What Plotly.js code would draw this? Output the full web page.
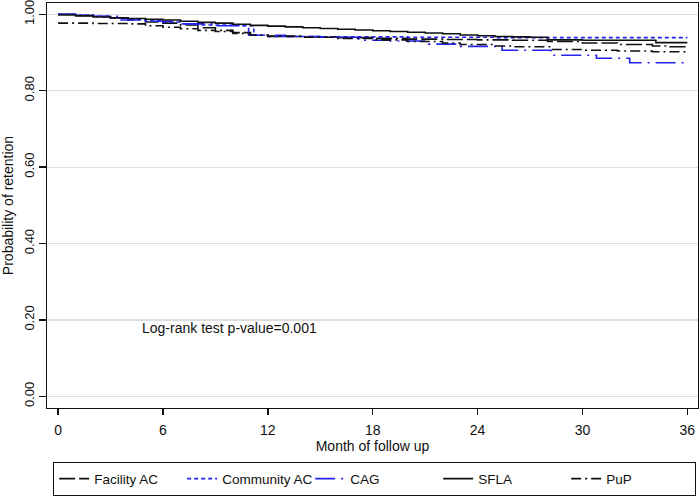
<!DOCTYPE html>
<html>
<head>
<meta charset="utf-8">
<script src="https://cdn.plot.ly/plotly-3.0.1.min.js"></script>
<style>
  html, body { margin: 0; padding: 0; background: #fff; }
  #chart { width: 700px; height: 497px; }
</style>
</head>
<body>
<div id="chart"></div>
<script>
// Kaplan-Meier retention curves (months, probability)
var facilityMonths = [0, 1, 2, 3, 4, 5, 6, 7, 8, 9, 10, 11, 12, 14, 16, 18, 20, 22, 24, 26, 28, 30, 32, 34, 35, 36]
var facilitySurv = [1.0, 0.997, 0.994, 0.99, 0.985, 0.98, 0.977, 0.972, 0.965, 0.958, 0.952, 0.945, 0.942, 0.941, 0.939, 0.937, 0.935, 0.934, 0.933, 0.932, 0.929, 0.925, 0.921, 0.917, 0.915, 0.914]

var communityMonths = [0, 1, 2, 3, 4, 5, 6, 7, 8, 10, 11.2, 12, 15, 20, 25, 36]
var communitySurv = [1.0, 0.998, 0.995, 0.99, 0.987, 0.984, 0.98, 0.975, 0.972, 0.97, 0.945, 0.942, 0.941, 0.94, 0.939, 0.939]

var cagMonths = [0, 1, 2, 3.6, 5, 7, 9, 10.9, 13, 15, 17.2, 19, 21.2, 22.9, 25.4, 28.2, 30.8, 32.7, 36]
var cagSurv = [1.0, 0.998, 0.995, 0.985, 0.982, 0.975, 0.97, 0.945, 0.942, 0.94, 0.932, 0.93, 0.922, 0.916, 0.906, 0.893, 0.885, 0.873, 0.873]

var sflaMonths = [0, 1, 2, 3, 4, 5, 6, 7, 8, 9, 10, 11, 12, 13, 14, 15, 16, 17, 18, 19, 20, 21, 22, 23, 24, 25, 26, 27, 28, 30, 32, 34.2, 36]
var sflaSurv = [0.998, 0.996, 0.993, 0.991, 0.989, 0.987, 0.985, 0.982, 0.979, 0.977, 0.974, 0.971, 0.969, 0.967, 0.965, 0.963, 0.961, 0.959, 0.957, 0.955, 0.953, 0.951, 0.949, 0.946, 0.944, 0.942, 0.941, 0.94, 0.933, 0.932, 0.932, 0.926, 0.926]

var pupMonths = [0, 2, 4, 5, 6, 7, 8, 9, 10, 11, 12, 14, 16, 18, 20, 22, 23, 25, 26, 28.2, 30, 32, 34, 36]
var pupSurv = [0.977, 0.976, 0.975, 0.97, 0.966, 0.962, 0.958, 0.955, 0.95, 0.946, 0.943, 0.94, 0.937, 0.933, 0.929, 0.925, 0.921, 0.917, 0.915, 0.908, 0.906, 0.904, 0.902, 0.901]

var monthTicks = [0, 6, 12, 18, 24, 30, 36]
var probTicks = [0, 0.2, 0.4, 0.6, 0.8, 1.0]
var probLabels = ['0.00', '0.20', '0.40', '0.60', '0.80', '1.00']

var black = '#111111'
var blue = '#2323ee'

function stepTrace(x, y, name, color, dash) {
    return {
        x: x, y: y, name: name, type: 'scatter', mode: 'lines',
        line: { shape: 'hv', color: color, width: 1.6, dash: dash },
        hoverinfo: 'x+y+name'
    }
}

var traces = [
    stepTrace(facilityMonths, facilitySurv, 'Facility AC', black, '16px,4px,16px,4px,2px,4px'),
    stepTrace(communityMonths, communitySurv, 'Community AC', blue, '4px,3px'),
    stepTrace(cagMonths, cagSurv, 'CAG', blue, '20px,6px,2px,6px'),
    stepTrace(sflaMonths, sflaSurv, 'SFLA', black, 'solid'),
    stepTrace(pupMonths, pupSurv, 'PuP', black, '10px,4px,2px,4px')
]

var font = { family: 'Liberation Sans, Arial, sans-serif', size: 14, color: '#111' }

var layout = {
    width: 700, height: 497,
    margin: { l: 47, r: 2, t: 3, b: 89, autoexpand: false },
    paper_bgcolor: '#fff', plot_bgcolor: '#fff',
    font: font,
    showlegend: true,
    xaxis: {
        range: [-0.635, 36.61],
        tickvals: monthTicks,
        ticks: 'outside', ticklen: 6, tickwidth: 1.3, tickcolor: black,
        showline: true, mirror: true, linecolor: black, linewidth: 1.3,
        showgrid: false, zeroline: false,
        tickfont: { size: 14 },
        ticklabelstandoff: 3,
        title: { text: 'Month of follow up', font: { size: 14 }, standoff: 0 }
    },
    yaxis: {
        range: [-0.0306, 1.0296],
        tickvals: probTicks, ticktext: probLabels,
        tickangle: -90,
        ticklabeloverflow: 'allow',
        ticks: 'outside', ticklen: 7, tickwidth: 1.3, tickcolor: black,
        showline: true, mirror: true, linecolor: black, linewidth: 1.3,
        showgrid: true, gridcolor: '#dddddd', gridwidth: 1.2, zeroline: false,
        tickfont: { size: 13 },
        title: { text: 'Probability of retention', font: { size: 14 }, standoff: 4 }
    },
    legend: {
        orientation: 'h',
        x: 0.009, xanchor: 'left',
        y: -0.2173, yanchor: 'bottom',
        entrywidth: 83, entrywidthmode: 'pixels',
        bordercolor: black, borderwidth: 1.3,
        font: { size: 13.5 },
        traceorder: 'normal'
    },
    annotations: [{
        x: 4.7, y: 0.18, xref: 'x', yref: 'y',
        xanchor: 'left', yanchor: 'middle',
        text: 'Log-rank test p-value=0.001',
        showarrow: false,
        font: { size: 14 }
    }]
}

Plotly.newPlot('chart', traces, layout, { displayModeBar: false, staticPlot: true })
</script>
</body>
</html>
